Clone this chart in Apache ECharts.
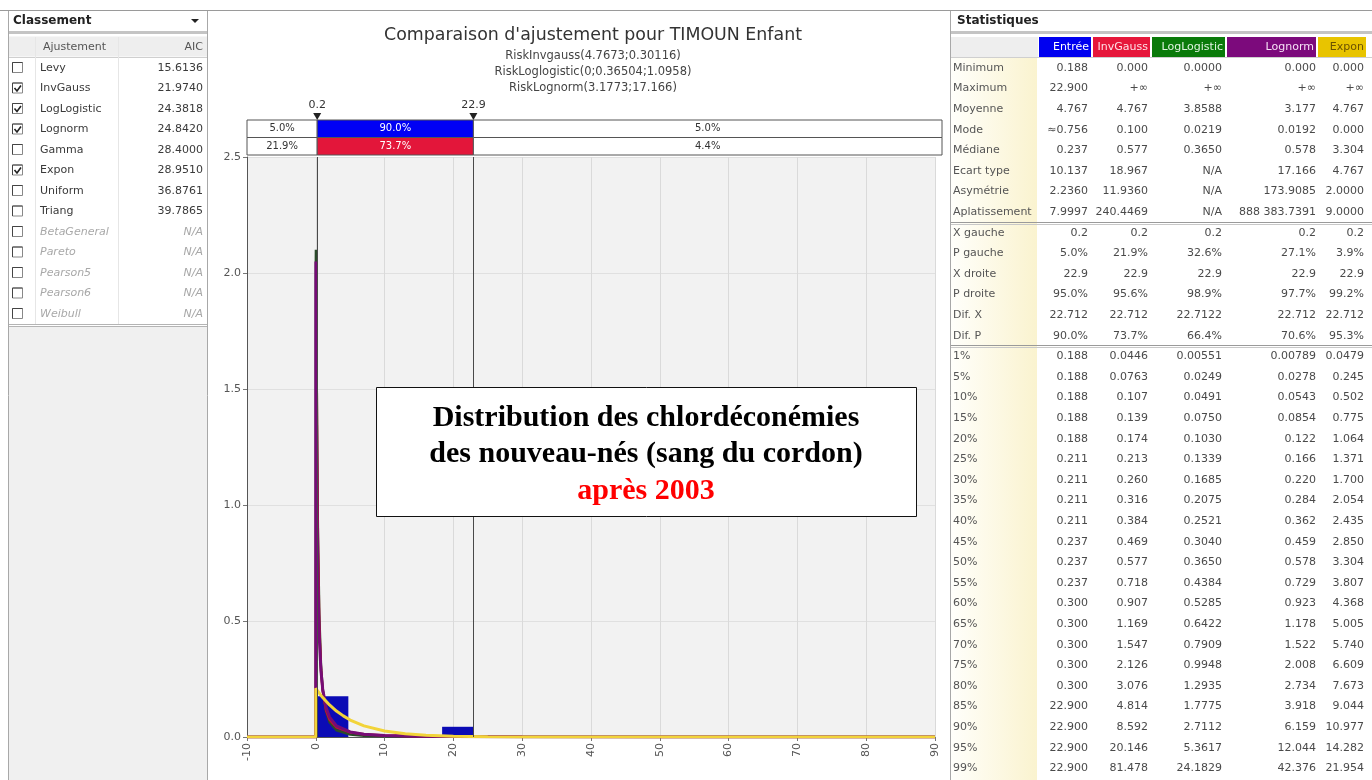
<!DOCTYPE html>
<html>
<head>
<meta charset="utf-8">
<title>Comparaison d'ajustement pour TIMOUN Enfant</title>
<script src="https://cdn.jsdelivr.net/npm/echarts@6.0.0/dist/echarts.min.js"></script>
<style>
html, body { margin: 0; padding: 0; background: #fff; }
#main { width: 1372px; height: 780px; }
</style>
</head>
<body>
<div id="main"></div>
<script>
var dom = document.getElementById('main');
var myChart = echarts.init(dom);

// ---- histogramme des données (densité) ----
var histEdges = [0.188, 4.73, 9.27, 13.81, 18.36, 22.9];
var histDensity = [0.176, 0, 0, 0, 0.044];

// ---- courbes ajustées, points [x, densité] ----
var invgaussPts = [[-10,0],[0,0],[0.02,0.04],[0.03,0.3],[0.05,1.03],[0.07,1.46],[0.1,1.63],[0.15,1.47],[0.2,1.23],[0.3,0.86],[0.5,0.49],[0.75,0.29],[1,0.2],[1.5,0.114],[2,0.075],[3,0.042],[5,0.02],[7,0.012],[10,0.0068],[15,0.0035],[20,0.0023],[30,0.0012],[50,0.0005],[90,0.00015]];
var loglogisticPts = [[-10,0],[0,0],[0.0005,1.5],[0.002,1.8],[0.005,1.95],[0.01,2.05],[0.022,2.1],[0.04,2.03],[0.07,1.88],[0.1,1.72],[0.15,1.45],[0.2,1.23],[0.3,0.9],[0.5,0.53],[0.75,0.31],[1,0.205],[1.5,0.11],[2,0.064],[3,0.029],[5,0.011],[7,0.0058],[10,0.0028],[15,0.0012],[20,0.0007],[30,0.0003],[50,0.0001],[90,0.00003]];
var lognormPts = [[-10,0],[0,0],[0.001,0.58],[0.005,1.58],[0.01,1.93],[0.0192,2.05],[0.03,1.99],[0.05,1.79],[0.1,1.38],[0.2,0.92],[0.3,0.68],[0.5,0.43],[0.75,0.285],[1,0.207],[1.5,0.126],[2,0.086],[3,0.048],[5,0.022],[7,0.012],[10,0.0066],[15,0.003],[20,0.0017],[30,0.0007],[50,0.0002],[90,0.00004]];
var exponPts = [[-10,0],[0,0],[0,0.21],[0.5,0.189],[1,0.17],[2,0.138],[3,0.112],[4,0.091],[5,0.073],[7,0.048],[10,0.026],[13,0.0137],[16,0.0073],[20,0.0032],[25,0.0011],[30,0.0004],[40,0.00005],[90,0]];

// ---- bandes de probabilité au-dessus du graphique ----
var barLimits = [0.2, 22.9];
var topRows = ['Entrée', 'InvGauss'];
var topColors = ['#0000f5', '#e3163a'];
var topProbs = [['5.0%', '90.0%', '5.0%'], ['21.9%', '73.7%', '4.4%']];

// ---- panneau Classement ----
var fitNames = ['Levy', 'InvGauss', 'LogLogistic', 'Lognorm', 'Gamma', 'Expon', 'Uniform', 'Triang', 'BetaGeneral', 'Pareto', 'Pearson5', 'Pearson6', 'Weibull'];
var fitAIC = ['15.6136', '21.9740', '24.3818', '24.8420', '28.4000', '28.9510', '36.8761', '39.7865', 'N/A', 'N/A', 'N/A', 'N/A', 'N/A'];
var fitChecked = [0, 1, 1, 1, 0, 1, 0, 0, 0, 0, 0, 0, 0];

// ---- panneau Statistiques ----
var statCols = ['Entrée', 'InvGauss', 'LogLogistic', 'Lognorm', 'Expon'];
var statColors = ['#0000f0', '#e6173b', '#0a7a0a', '#7c0a7c', '#e8c400'];
var statHeadText = ['#ffffff', '#ffe0e6', '#e0f4e0', '#f6e0f6', '#6b5200'];
var statsMoments = [
  ['Minimum', '0.188', '0.000', '0.0000', '0.000', '0.000'],
  ['Maximum', '22.900', '+∞', '+∞', '+∞', '+∞'],
  ['Moyenne', '4.767', '4.767', '3.8588', '3.177', '4.767'],
  ['Mode', '≈0.756', '0.100', '0.0219', '0.0192', '0.000'],
  ['Médiane', '0.237', '0.577', '0.3650', '0.578', '3.304'],
  ['Ecart type', '10.137', '18.967', 'N/A', '17.166', '4.767'],
  ['Asymétrie', '2.2360', '11.9360', 'N/A', '173.9085', '2.0000'],
  ['Aplatissement', '7.9997', '240.4469', 'N/A', '888 383.7391', '9.0000']
];
var statsLimits = [
  ['X gauche', '0.2', '0.2', '0.2', '0.2', '0.2'],
  ['P gauche', '5.0%', '21.9%', '32.6%', '27.1%', '3.9%'],
  ['X droite', '22.9', '22.9', '22.9', '22.9', '22.9'],
  ['P droite', '95.0%', '95.6%', '98.9%', '97.7%', '99.2%'],
  ['Dif. X', '22.712', '22.712', '22.7122', '22.712', '22.712'],
  ['Dif. P', '90.0%', '73.7%', '66.4%', '70.6%', '95.3%']
];
var statsPercentiles = [
  ['1%', '0.188', '0.0446', '0.00551', '0.00789', '0.0479'],
  ['5%', '0.188', '0.0763', '0.0249', '0.0278', '0.245'],
  ['10%', '0.188', '0.107', '0.0491', '0.0543', '0.502'],
  ['15%', '0.188', '0.139', '0.0750', '0.0854', '0.775'],
  ['20%', '0.188', '0.174', '0.1030', '0.122', '1.064'],
  ['25%', '0.211', '0.213', '0.1339', '0.166', '1.371'],
  ['30%', '0.211', '0.260', '0.1685', '0.220', '1.700'],
  ['35%', '0.211', '0.316', '0.2075', '0.284', '2.054'],
  ['40%', '0.211', '0.384', '0.2521', '0.362', '2.435'],
  ['45%', '0.237', '0.469', '0.3040', '0.459', '2.850'],
  ['50%', '0.237', '0.577', '0.3650', '0.578', '3.304'],
  ['55%', '0.237', '0.718', '0.4384', '0.729', '3.807'],
  ['60%', '0.300', '0.907', '0.5285', '0.923', '4.368'],
  ['65%', '0.300', '1.169', '0.6422', '1.178', '5.005'],
  ['70%', '0.300', '1.547', '0.7909', '1.522', '5.740'],
  ['75%', '0.300', '2.126', '0.9948', '2.008', '6.609'],
  ['80%', '0.300', '3.076', '1.2935', '2.734', '7.673'],
  ['85%', '22.900', '4.814', '1.7775', '3.918', '9.044'],
  ['90%', '22.900', '8.592', '2.7112', '6.159', '10.977'],
  ['95%', '22.900', '20.146', '5.3617', '12.044', '14.282'],
  ['99%', '22.900', '81.478', '24.1829', '42.376', '21.954']
];

var titleText = "Comparaison d'ajustement pour TIMOUN Enfant";
var subTitles = ['RiskInvgauss(4.7673;0.30116)', 'RiskLoglogistic(0;0.36504;1.0958)', 'RiskLognorm(3.1773;17.166)'];
var noteLines = ['Distribution des chlordéconémies', 'des nouveau-nés (sang du cordon)', 'après 2003'];

var FONT = "'DejaVu Sans', sans-serif";

function txt(x, y, s, o) {
  o = o || {};
  var al = o.align || 'left';
  return {
    type: 'text', x: x, y: y, silent: true, z: o.z || 10,
    style: {
      text: s, fill: o.fill || '#4a4a4a',
      fontSize: o.size || 11, fontFamily: o.family || FONT,
      fontWeight: o.weight || 'normal', fontStyle: o.italic ? 'italic' : 'normal',
      align: al, textAlign: al, verticalAlign: 'middle', textVerticalAlign: 'middle'
    }
  };
}
function box(x, y, w, h, fill, stroke, z) {
  return { type: 'rect', silent: true, z: z || 1, shape: { x: x, y: y, width: w, height: h },
    style: { fill: fill || 'none', stroke: stroke || 'none', lineWidth: 1 } };
}
function hline(x1, x2, y, c, z) {
  return { type: 'line', silent: true, z: z || 5, shape: { x1: x1, y1: y, x2: x2, y2: y }, style: { stroke: c, lineWidth: 1 } };
}
function vline(x, y1, y2, c, z) {
  return { type: 'line', silent: true, z: z || 5, shape: { x1: x, y1: y1, x2: x, y2: y2 }, style: { stroke: c, lineWidth: 1 } };
}

function buildPanels() {
  var g = [];
  g.push(hline(0, 1372, 10.5, '#9a9a9a'));

  // Classement
  g.push(box(8.5, 10.5, 199, 770, '#ffffff', '#a8a8a8'));
  g.push(txt(13, 21, 'Classement', { weight: 'bold', size: 12, fill: '#222' }));
  g.push({ type: 'polygon', silent: true, z: 10, shape: { points: [[191, 19], [199, 19], [195, 23]] }, style: { fill: '#222' } });
  g.push(box(9, 31, 198, 3, '#c4c4c4', null, 3));
  g.push(box(9, 36.5, 198, 20, '#eeeeee', null, 2));
  g.push(hline(9, 207, 57.5, '#cfcfcf'));
  g.push(vline(35.5, 37, 324, '#e6e6e6'));
  g.push(vline(118.5, 37, 324, '#e6e6e6'));
  g.push(txt(43, 47, 'Ajustement', { fill: '#555' }));
  g.push(txt(203, 47, 'AIC', { fill: '#555', align: 'right' }));
  fitNames.forEach(function (name, i) {
    var y = 68 + i * 20.5;
    var na = fitAIC[i] === 'N/A';
    g.push(box(12.5, y - 5.5, 10, 10, '#ffffff', '#888', 6));
    g.push({ type: 'polyline', silent: true, z: 7, shape: { points: [[12.5, y + 4.5], [12.5, y - 5.5], [22.5, y - 5.5]] }, style: { stroke: '#444', lineWidth: 1, fill: 'none' } });
    if (fitChecked[i]) {
      g.push({ type: 'polyline', silent: true, z: 8, shape: { points: [[14.5, y - 0.5], [17, y + 2.5], [21, y - 3]] }, style: { stroke: '#222', lineWidth: 1.6, fill: 'none' } });
    }
    g.push(txt(40, y, name, { fill: na ? '#a8a8a8' : '#3a3a3a', italic: na }));
    g.push(txt(203, y, fitAIC[i], { fill: na ? '#a8a8a8' : '#3a3a3a', italic: na, align: 'right' }));
  });
  g.push(hline(9, 207, 324.5, '#b4b4b4'));
  g.push(hline(9, 207, 326.5, '#b4b4b4'));
  g.push(box(9, 327, 198, 453, '#f0f0f0', null, 2));

  // Statistiques
  g.push(box(950.5, 10.5, 422, 770, '#ffffff', '#a8a8a8'));
  g.push(txt(957, 21, 'Statistiques', { weight: 'bold', size: 12, fill: '#222' }));
  g.push(box(951, 31, 421, 3, '#c4c4c4', null, 3));
  g.push({ type: 'rect', silent: true, z: 2, shape: { x: 951, y: 58, width: 86, height: 722 },
    style: { fill: { type: 'linear', x: 0, y: 0, x2: 1, y2: 0, colorStops: [{ offset: 0, color: '#fffffb' }, { offset: 1, color: '#faf3cf' }] } } });
  g.push(box(951, 37, 87, 20, '#eeeeee', null, 2));
  var colLeft = [1039, 1093, 1152, 1227, 1318];
  var colRight = [1091, 1150, 1225, 1316, 1366];
  var valRight = [1088, 1148, 1222, 1316, 1364];
  statCols.forEach(function (c, j) {
    g.push(box(colLeft[j], 37, colRight[j] - colLeft[j], 20, statColors[j], null, 3));
    g.push(txt(colRight[j] - 2, 47, c, { fill: statHeadText[j], align: 'right' }));
  });
  g.push(hline(951, 1372, 57.5, '#cfcfcf'));
  var allRows = statsMoments.concat(statsLimits, statsPercentiles);
  allRows.forEach(function (row, i) {
    var y = 68 + i * 20.6;
    g.push(txt(953, y, row[0], { fill: '#555' }));
    for (var j = 1; j < row.length; j++) {
      g.push(txt(valRight[j - 1], y, row[j], { fill: '#4a4a4a', align: 'right' }));
    }
  });
  var sep1 = 68 + (statsMoments.length - 0.5) * 20.6;
  var sep2 = 68 + (statsMoments.length + statsLimits.length - 0.5) * 20.6;
  [sep1, sep2].forEach(function (y) {
    g.push(hline(951, 1372, Math.round(y) - 0.5, '#9a9a9a', 6));
    g.push(hline(951, 1372, Math.round(y) + 1.5, '#c8c8c8', 6));
  });

  // Titres
  g.push(txt(593, 35, titleText, { size: 17.4, fill: '#333', align: 'center' }));
  subTitles.forEach(function (s, i) {
    g.push(txt(593, 56 + i * 16, s, { size: 11.5, fill: '#444', align: 'center' }));
  });

  // Encadré
  g.push(box(376.5, 387.5, 540, 129, '#ffffff', '#111', 100));
  noteLines.forEach(function (s, i) {
    g.push(txt(646, 418 + i * 36.5, s, { size: 30, weight: 'bold', family: "'Liberation Serif', 'Times New Roman', serif",
      fill: i === 2 ? '#ff0000' : '#000', align: 'center', z: 101 }));
  });
  return g;
}

var histData = [];
for (var i = 0; i < histDensity.length; i++) {
  if (histDensity[i] > 0) histData.push([histEdges[i], histEdges[i + 1], histDensity[i]]);
}

var segData = [];
topRows.forEach(function (r, ri) {
  var edges = [-10, barLimits[0], barLimits[1], 91];
  for (var s = 0; s < 3; s++) segData.push([edges[s], edges[s + 1], ri, s]);
});

function renderBin(params, api) {
  var a = api.coord([api.value(0), api.value(2)]);
  var b = api.coord([api.value(1), 0]);
  return { type: 'rect', shape: { x: a[0], y: a[1], width: b[0] - a[0], height: b[1] - a[1] }, style: { fill: '#0b0bb5' } };
}

function renderSeg(params, api) {
  var r = api.value(2), s = api.value(3);
  var a = api.coord([api.value(0), r]);
  var b = api.coord([api.value(1), r]);
  var h = api.size([0, 1])[1];
  var colored = s === 1;
  return { type: 'group', children: [
    { type: 'rect', shape: { x: a[0], y: a[1] - h / 2, width: b[0] - a[0], height: h },
      style: { fill: colored ? topColors[r] : '#ffffff', stroke: '#555', lineWidth: 1 } },
    { type: 'text', style: { text: topProbs[r][s], x: (a[0] + b[0]) / 2, y: a[1], align: 'center', verticalAlign: 'middle',
      textAlign: 'center', textVerticalAlign: 'middle', fill: colored ? '#ffffff' : '#333', fontSize: 10, fontFamily: FONT } }
  ] };
}

function renderLimit(params, api) {
  var p = api.coord([api.value(0), 0]);
  var top = params.coordSys.y;
  return { type: 'group', children: [
    { type: 'polygon', shape: { points: [[p[0] - 4, top - 7], [p[0] + 4, top - 7], [p[0], top]] }, style: { fill: '#222' } },
    { type: 'text', style: { text: String(api.value(0)), x: p[0], y: top - 9, align: 'center', verticalAlign: 'bottom',
      textAlign: 'center', textVerticalAlign: 'bottom', fill: '#333', fontSize: 11, fontFamily: FONT } }
  ] };
}

function curve(name, pts, color, width) {
  return { name: name, type: 'line', xAxisIndex: 0, yAxisIndex: 0, data: pts, showSymbol: false, symbol: 'none',
    smooth: false, clip: true, silent: true, lineStyle: { color: color, width: width }, itemStyle: { color: color } };
}

var llSeries = curve('LogLogistic', loglogisticPts, '#2a4a2a', 2.5);
llSeries.markLine = {
  silent: true, symbol: 'none', label: { show: false },
  lineStyle: { color: '#4a4a4a', type: 'solid', width: 1 },
  data: barLimits.map(function (v) { return { xAxis: v }; })
};

var option = {
  animation: false,
  backgroundColor: '#ffffff',
  grid: [
    { left: 247, right: 437, top: 157, bottom: 43, show: true, backgroundColor: '#f2f2f2', borderWidth: 0 },
    { left: 247, right: 430, top: 120, height: 35, show: false }
  ],
  xAxis: [
    { gridIndex: 0, type: 'value', min: -10, max: 90, interval: 10,
      axisLine: { show: true, onZero: false, lineStyle: { color: '#555' } },
      axisTick: { show: true, length: 4, lineStyle: { color: '#777' } },
      axisLabel: { rotate: 90, color: '#555', fontSize: 11, fontFamily: FONT, margin: 6 },
      splitLine: { show: true, lineStyle: { color: '#dadada' } } },
    { gridIndex: 1, type: 'value', min: -10, max: 91, show: false }
  ],
  yAxis: [
    { gridIndex: 0, type: 'value', min: 0, max: 2.5, interval: 0.5,
      axisLine: { show: true, onZero: false, lineStyle: { color: '#555' } },
      axisTick: { show: true, length: 4, lineStyle: { color: '#777' } },
      axisLabel: { color: '#555', fontSize: 11, fontFamily: FONT, margin: 6, formatter: function (v) { return v.toFixed(1); } },
      splitLine: { show: true, lineStyle: { color: '#e0e0e0' } } },
    { gridIndex: 1, type: 'category', data: topRows, inverse: true, show: false }
  ],
  series: [
    { name: 'Entrée', type: 'custom', xAxisIndex: 0, yAxisIndex: 0, renderItem: renderBin,
      encode: { x: [0, 1], y: 2 }, data: histData, silent: true },
    llSeries,
    curve('InvGauss', invgaussPts, '#c8102f', 2.5),
    curve('Lognorm', lognormPts, '#760c76', 3),
    curve('Expon', exponPts, '#f2d43a', 3),
    { type: 'custom', xAxisIndex: 1, yAxisIndex: 1, renderItem: renderSeg, encode: { x: [0, 1], y: 2 },
      data: segData, silent: true, clip: false },
    { type: 'custom', xAxisIndex: 1, yAxisIndex: 1, renderItem: renderLimit, encode: { x: 0, y: 1 },
      data: barLimits.map(function (v) { return [v, 0]; }), silent: true, clip: false }
  ],
  graphic: buildPanels()
};

if (option && typeof option === 'object') {
  myChart.setOption(option, true);
}
</script>
</body>
</html>
